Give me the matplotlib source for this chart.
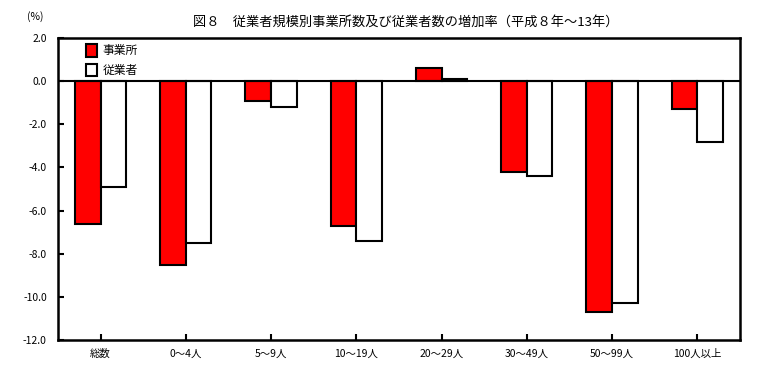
import matplotlib
matplotlib.use("Agg")
import matplotlib.pyplot as plt
import numpy as np

plt.rcParams['font.family'] = ['Noto Sans CJK JP', 'DejaVu Sans']

categories = ['総数', '0～4人', '5～9人', '10～19人', '20～29人', '30～49人', '50～99人', '100人以上']
establishments = [-6.6, -8.5, -0.9, -6.7, 0.6, -4.2, -10.7, -1.3]
employees = [-4.9, -7.5, -1.2, -7.4, 0.1, -4.4, -10.3, -2.8]
yticks = [2.0, 0.0, -2.0, -4.0, -6.0, -8.0, -10.0, -12.0]

fig = plt.figure(figsize=(7.58, 3.78), dpi=100)
ax = fig.add_axes([0.0765, 0.1005, 0.8995, 0.799])

x = np.arange(len(categories))
w = 0.3
ax.bar(x - w/2, establishments, w, color='#ff0000', edgecolor='black', linewidth=1.5, label='事業所')
ax.bar(x + w/2, employees, w, color='white', edgecolor='black', linewidth=1.5, label='従業者')
ax.axhline(0, color='black', linewidth=1.5)

ax.set_xlim(-0.5, len(categories) - 0.5)
ax.set_ylim(-12, 2)
ax.set_yticks(yticks)
ax.set_yticklabels([f'{v:.1f}' for v in yticks], fontsize=7.5)
ax.set_xticks(x)
ax.set_xticklabels(categories, fontsize=7.5)
ax.tick_params(axis='both', direction='in', length=4, width=1.5)
ax.tick_params(axis='x', pad=6)
ax.tick_params(axis='y', pad=8)
for s in ax.spines.values():
    s.set_linewidth(1.8)

leg = ax.legend(loc='upper left', bbox_to_anchor=(0.025, 1.015), frameon=False,
                fontsize=8.5, handlelength=0.95, handleheight=1.25, handletextpad=0.5,
                labelspacing=0.55)

fig.text(0.535, 0.94, '図８　従業者規模別事業所数及び従業者数の増加率（平成８年～13年）',
         ha='center', va='center', fontsize=9.5)
fig.text(0.046, 0.955, '(%)', ha='center', va='center', fontsize=7.5)

fig.savefig('out.png', dpi=100)
